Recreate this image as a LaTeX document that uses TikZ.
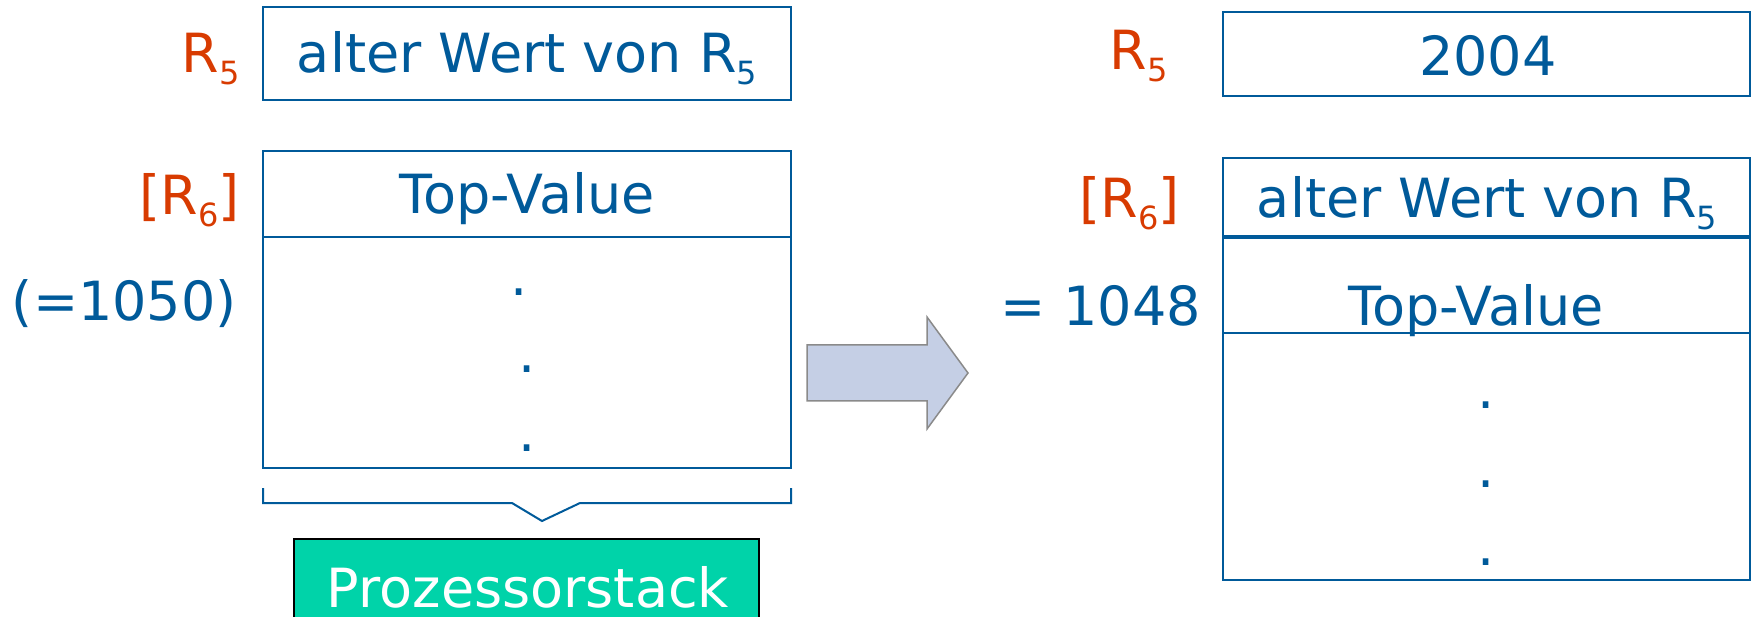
\documentclass[tikz,border=0pt]{standalone}
\usepackage{fontspec}
\setmainfont{DejaVu Sans}
\definecolor{textblue}{HTML}{005A9A}
\definecolor{regorange}{HTML}{D83B01}
\definecolor{stackteal}{HTML}{00D3A9}
\definecolor{arrowfill}{HTML}{C5CFE5}
\definecolor{arrowline}{HTML}{8A8A8A}
\newcommand\lowsub[1]{\raisebox{-12pt}{\fontsize{32}{36}\selectfont #1}}
\tikzset{
  cell/.style={draw=textblue, line width=2pt, inner sep=0pt, outer sep=0pt},
  lbl/.style={inner sep=0pt, anchor=base, font=\fontsize{54}{64}\selectfont},
  bluetxt/.style={lbl, text=textblue},
  regtxt/.style={lbl, text=regorange, anchor=base east},
}
\begin{document}
\begin{tikzpicture}[x=1pt, y=-1pt]
\useasboundingbox (0,0) rectangle (1754,617);

% ---------- before: register R5 and processor stack ----------
\node[cell, minimum width=528pt, minimum height=93pt] (r5old) at (527,53.5) {};
\node[bluetxt] (r5oldtxt) at (527,73) {alter Wert von R\lowsub{5}};
\node[regtxt] (r5lblL) at (240,73) {R\lowsub{5}};

\node[cell, minimum width=528pt, minimum height=86pt] (topL) at (527,194) {};
\node[cell, minimum width=528pt, minimum height=231pt] (restL) at (527,352.5) {};
\node[bluetxt] (topLtxt) at (527,214) {Top-Value};
\node[bluetxt] (dotL1) at (519,296) {.};
\node[bluetxt] (dotL2) at (527,373) {.};
\node[bluetxt] (dotL3) at (527,451) {.};
\node[regtxt] (r6lblL) at (240,215) {[R\lowsub{6}]};
\node[bluetxt, anchor=base east] (addrL) at (237,321) {(=1050)};

% brace under the stack
\coordinate (bA) at (263,488);
\coordinate (bB) at (263,503);
\coordinate (bC) at (512,503);
\coordinate (bD) at (542,521);
\coordinate (bE) at (580,503);
\coordinate (bF) at (791,503);
\coordinate (bG) at (791,488);
\draw[textblue, line width=2pt] (bA) -- (bB) -- (bC) -- (bD) -- (bE) -- (bF) -- (bG);

\node[draw=black, line width=2.5pt, fill=stackteal, minimum width=465pt, minimum height=100pt, inner sep=0pt] (ps) at (526.5,589) {};
\node[lbl, text=white] (pstxt) at (528,607) {Prozessorstack};

% ---------- transition arrow ----------
\draw[draw=arrowline, line width=1.5pt, fill=arrowfill]
  (807,345) -- (927,345) -- (927,317) -- (968,373) -- (927,429) -- (927,401) -- (807,401) -- cycle;

% ---------- after: register R5 and processor stack ----------
\node[cell, minimum width=527pt, minimum height=84pt] (r5new) at (1486.5,54.5) {};
\node[bluetxt] (r5newtxt) at (1488,76) {2004};
\node[regtxt] (r5lblR) at (1168,70) {R\lowsub{5}};

\node[cell, minimum width=527pt, minimum height=79pt] (pushR) at (1486.5,197.5) {};
\node[cell, minimum width=527pt, minimum height=96pt] (topR) at (1486.5,285) {};
\node[cell, minimum width=527pt, minimum height=247pt] (restR) at (1486.5,456.5) {};
\draw[textblue, line width=4pt] (pushR.south west) -- (pushR.south east);
\node[bluetxt] (pushRtxt) at (1487,218) {alter Wert von R\lowsub{5}};
\node[bluetxt] (topRtxt) at (1476,326) {Top-Value};
\node[bluetxt] (dotR1) at (1486,409) {.};
\node[bluetxt] (dotR2) at (1486,487) {.};
\node[bluetxt] (dotR3) at (1486,565) {.};
\node[regtxt] (r6lblR) at (1180,218) {[R\lowsub{6}]};
\node[bluetxt, anchor=base east] (addrR) at (1201,326) {= 1048};
\end{tikzpicture}
\end{document}
